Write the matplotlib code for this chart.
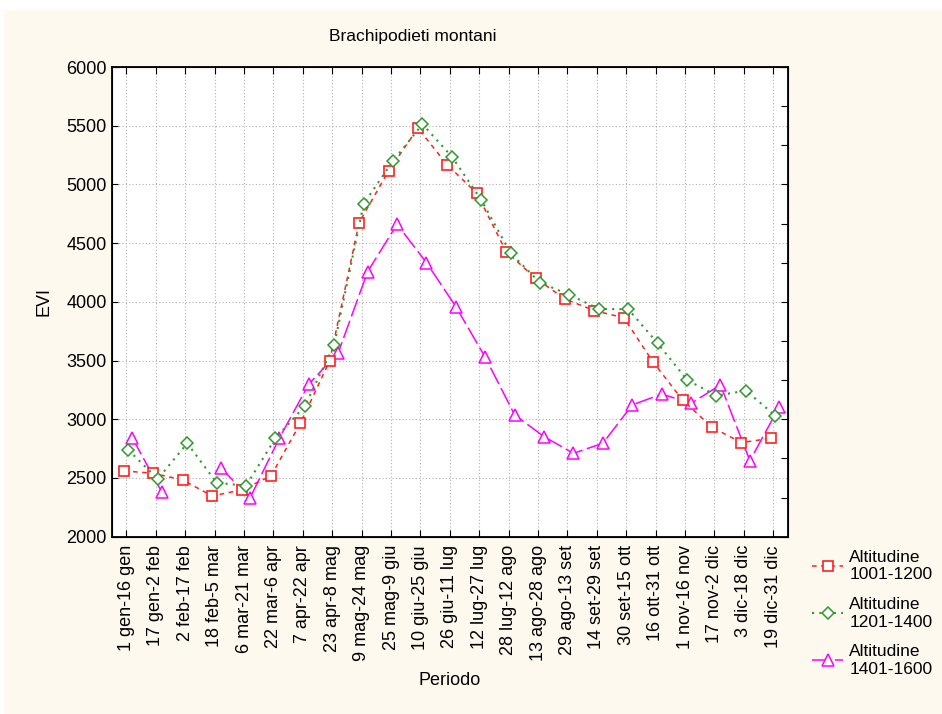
import numpy as np
import matplotlib
matplotlib.use('Agg')
import matplotlib.pyplot as plt
from matplotlib.patches import Rectangle
from matplotlib.transforms import offset_copy

plt.rcParams['font.family'] = ['Liberation Sans', 'DejaVu Sans']

periodi = ['1 gen-16 gen', '17 gen-2 feb', '2 feb-17 feb', '18 feb-5 mar', '6 mar-21 mar',
           '22 mar-6 apr', '7 apr-22 apr', '23 apr-8 mag', '9 mag-24 mag', '25 mag-9 giu',
           '10 giu-25 giu', '26 giu-11 lug', '12 lug-27 lug', '28 lug-12 ago', '13 ago-28 ago',
           '29 ago-13 set', '14 set-29 set', '30 set-15 ott', '16 ott-31 ott', '1 nov-16 nov',
           '17 nov-2 dic', '3 dic-18 dic', '19 dic-31 dic']

alt_1001_1200 = [2560, 2540, 2483, 2347, 2398, 2517, 2966, 3499, 4675, 5115, 5479, 5166,
                 4925, 4428, 4201, 4025, 3925, 3865, 3486, 3164, 2932, 2801, 2838]
alt_1201_1400 = [2738, 2491, 2796, 2460, 2434, 2838, 3113, 3633, 4834, 5200, 5513, 5237,
                 4868, 4414, 4164, 4060, 3940, 3937, 3647, 3335, 3201, 3244, 3031]
alt_1401_1600 = [2840, 2381, np.nan, 2589, 2330, 2841, 3300, 3567, 4257, 4661, 4334, 3959,
                 3528, 3037, 2852, 2710, 2796, 3122, 3215, 3136, 3292, 2647, 3107]

fig = plt.figure(figsize=(9.42, 7.14), dpi=100, facecolor='white')
fig.patches.append(Rectangle((4 / 942, 0), 1, 1 - 10 / 714, transform=fig.transFigure,
                             facecolor='#fef9ef', edgecolor='none', zorder=-10))

ax = fig.add_axes([111.7 / 942, 1 - 536.7 / 714, (788 - 111.7) / 942, (536.7 - 67) / 714])
ax.set_facecolor('white')
x = np.arange(len(periodi))

# Statistica shifts each series a few pixels sideways
tr_r = offset_copy(ax.transData, fig=fig, x=-2.5, y=0, units='dots')
tr_g = offset_copy(ax.transData, fig=fig, x=2.0, y=0, units='dots')
tr_m = offset_copy(ax.transData, fig=fig, x=6.0, y=0, units='dots')

ax.plot(x, alt_1001_1200, transform=tr_r, color='#ff2020', ls=(0, (3, 3)), lw=1.1,
        marker='s', ms=7.5, mfc='white', mec='#ff2020', mew=1.2,
        label='Altitudine\n1001-1200', zorder=3)
ax.plot(x, alt_1201_1400, transform=tr_g, color='#2e9a2e', ls=(0, (1, 2.5)), lw=1.5,
        marker='D', ms=6, mfc='white', mec='#2e9a2e', mew=1.1,
        label='Altitudine\n1201-1400', zorder=4)
ax.plot(x, alt_1401_1600, transform=tr_m, color='#ff00ff', ls=(0, (12, 3)), lw=1.1,
        marker='^', ms=8, mfc='white', mec='#ff00ff', mew=1.1,
        label='Altitudine\n1401-1600', zorder=2)

ax.set_xlim(-0.5, len(periodi) - 0.5)
ax.set_ylim(2000, 6000)
ax.set_yticks(np.arange(2000, 6001, 500))
ax.set_xticks(x)
ax.set_xticklabels(periodi, rotation=90, fontsize=13)
ax.tick_params(axis='y', labelsize=13, direction='in', length=4, right=False)
ax.tick_params(axis='x', direction='in', length=5, top=True, pad=6)
ax.grid(True, ls=(0, (1, 2)), color='#b0b0b0', lw=0.8)
for s in ax.spines.values():
    s.set_linewidth(1.3)

ax2 = ax.twinx()
ax2.set_ylim(2000, 6000)
ax2.set_yticks(np.linspace(2000, 6000, 13))
ax2.tick_params(axis='y', direction='in', length=5, labelright=False)

ax.set_ylabel('EVI', fontsize=13, labelpad=10)
ax.set_xlabel('Periodo', fontsize=13, labelpad=8)
fig.text(413 / 942, 1 - 36 / 714, 'Brachipodieti montani', fontsize=12.5,
         ha='center', va='center')

fig.legend(loc='upper left', bbox_to_anchor=(812 / 942, 1 - 550 / 714), frameon=False,
           fontsize=12.5, handlelength=1.8, handletextpad=0.35, labelspacing=0.85,
           borderaxespad=0, borderpad=0)

fig.savefig('out.png', dpi=100, facecolor=fig.get_facecolor())
